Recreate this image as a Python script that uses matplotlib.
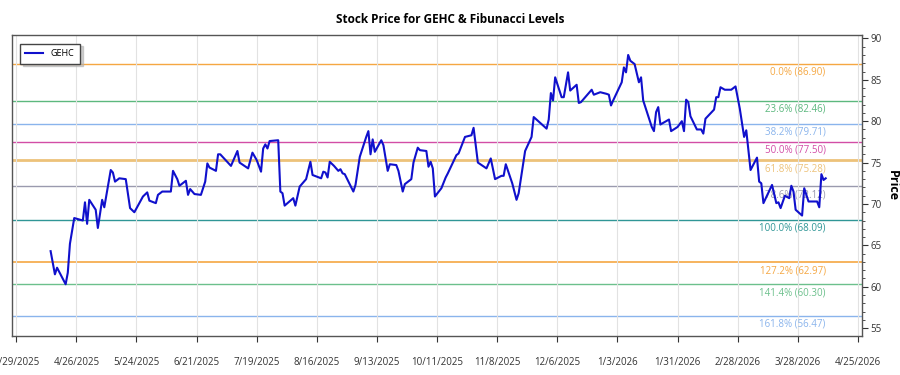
import matplotlib
matplotlib.use("Agg")
import matplotlib.pyplot as plt
import matplotlib.dates as mdates
from matplotlib.ticker import MultipleLocator, FuncFormatter
import pandas as pd

ticker = "GEHC"

# closing prices
dates = [
    "2025-04-14", "2025-04-16", "2025-04-17", "2025-04-21", "2025-04-22", "2025-04-23",
    "2025-04-25", "2025-04-29", "2025-04-30", "2025-05-01", "2025-05-02", "2025-05-05",
    "2025-05-06", "2025-05-08", "2025-05-09", "2025-05-12", "2025-05-13", "2025-05-14",
    "2025-05-16", "2025-05-19", "2025-05-21", "2025-05-23", "2025-05-27", "2025-05-29",
    "2025-05-30", "2025-06-02", "2025-06-03", "2025-06-05", "2025-06-09", "2025-06-10",
    "2025-06-12", "2025-06-13", "2025-06-16", "2025-06-17", "2025-06-18", "2025-06-20",
    "2025-06-23", "2025-06-25", "2025-06-26", "2025-06-27", "2025-06-30", "2025-07-01",
    "2025-07-02", "2025-07-07", "2025-07-10", "2025-07-11", "2025-07-15", "2025-07-17",
    "2025-07-19", "2025-07-21", "2025-07-22", "2025-07-23", "2025-07-24", "2025-07-25",
    "2025-07-29", "2025-07-30", "2025-07-31", "2025-08-01", "2025-08-05", "2025-08-06",
    "2025-08-08", "2025-08-11", "2025-08-13", "2025-08-14", "2025-08-18", "2025-08-19",
    "2025-08-20", "2025-08-21", "2025-08-22", "2025-08-24", "2025-08-26", "2025-08-27",
    "2025-08-28", "2025-08-29", "2025-09-02", "2025-09-03", "2025-09-05", "2025-09-08",
    "2025-09-09", "2025-09-10", "2025-09-11", "2025-09-12", "2025-09-15", "2025-09-16",
    "2025-09-18", "2025-09-19", "2025-09-22", "2025-09-23", "2025-09-25", "2025-09-26",
    "2025-09-29", "2025-09-30", "2025-10-02", "2025-10-03", "2025-10-06", "2025-10-07",
    "2025-10-08", "2025-10-09", "2025-10-10", "2025-10-13", "2025-10-15", "2025-10-16",
    "2025-10-20", "2025-10-21", "2025-10-24", "2025-10-27", "2025-10-28", "2025-10-30",
    "2025-11-03", "2025-11-05", "2025-11-07", "2025-11-10", "2025-11-11", "2025-11-12",
    "2025-11-15", "2025-11-17", "2025-11-18", "2025-11-21", "2025-11-24", "2025-11-25",
    "2025-12-01", "2025-12-02", "2025-12-03", "2025-12-04", "2025-12-05", "2025-12-08",
    "2025-12-09", "2025-12-11", "2025-12-12", "2025-12-15", "2025-12-16", "2025-12-17",
    "2025-12-22", "2025-12-23", "2025-12-26", "2025-12-29", "2025-12-30", "2025-12-31",
    "2026-01-01", "2026-01-05", "2026-01-06", "2026-01-07", "2026-01-08", "2026-01-09",
    "2026-01-11", "2026-01-13", "2026-01-14", "2026-01-15", "2026-01-19", "2026-01-20",
    "2026-01-21", "2026-01-22", "2026-01-23", "2026-01-27", "2026-01-28", "2026-01-31",
    "2026-02-02", "2026-02-03", "2026-02-04", "2026-02-05", "2026-02-06", "2026-02-09",
    "2026-02-11", "2026-02-12", "2026-02-13", "2026-02-17", "2026-02-18", "2026-02-19",
    "2026-02-20", "2026-02-22", "2026-02-24", "2026-02-25", "2026-02-27", "2026-03-01",
    "2026-03-03", "2026-03-04", "2026-03-06", "2026-03-09", "2026-03-10", "2026-03-11",
    "2026-03-12", "2026-03-16", "2026-03-18", "2026-03-19", "2026-03-20", "2026-03-22",
    "2026-03-24", "2026-03-25", "2026-03-26", "2026-03-27", "2026-03-30", "2026-03-31",
    "2026-04-02", "2026-04-06", "2026-04-07", "2026-04-08", "2026-04-09", "2026-04-10",
]
prices = [
    64.3, 61.5, 62.3, 60.3, 61.7, 65.2,
    68.3, 68.0, 70.2, 67.6, 70.5, 69.3,
    67.1, 70.5, 69.6, 74.1, 73.8, 72.7,
    73.1, 73.0, 69.5, 69.0, 70.9, 71.4,
    70.4, 70.1, 71.1, 71.5, 71.5, 74.0,
    73.0, 72.2, 72.8, 71.1, 71.8, 71.2,
    71.1, 72.7, 74.9, 74.4, 74.0, 76.0,
    76.0, 74.6, 76.4, 75.0, 74.3, 76.2,
    75.3, 73.9, 76.7, 77.2, 76.7, 77.6,
    77.7, 71.5, 71.3, 69.8, 70.7, 69.8,
    72.1, 73.0, 75.1, 73.5, 73.1, 73.9,
    73.8, 73.2, 75.1, 74.6, 74.0, 74.2,
    73.7, 73.6, 71.5, 72.3, 75.7, 78.1,
    78.8, 76.0, 77.8, 76.3, 77.7, 77.1,
    74.0, 74.8, 74.7, 74.0, 71.5, 72.4,
    73.0, 75.0, 76.8, 76.5, 76.4, 74.5,
    75.1, 74.3, 70.9, 71.9, 73.2, 73.7,
    75.9, 76.1, 78.1, 78.3, 79.2, 75.0,
    74.3, 75.5, 73.0, 73.4, 73.4, 74.8,
    72.5, 70.5, 71.3, 76.4, 78.1, 80.5,
    79.1, 80.2, 83.4, 82.5, 85.3, 82.9,
    82.9, 85.9, 83.7, 84.4, 82.2, 82.3,
    83.8, 83.2, 83.5, 83.3, 83.2, 81.9,
    82.5, 84.7, 86.5, 85.9, 88.0, 87.3,
    86.9, 84.7, 85.3, 82.5, 79.3, 78.8,
    81.1, 81.7, 79.6, 80.2, 78.8, 79.3,
    80.0, 78.8, 82.6, 82.3, 80.6, 79.0,
    79.0, 78.5, 80.3, 81.4, 82.9, 82.9,
    84.1, 83.8, 83.8, 83.8, 84.2, 81.5,
    78.1, 78.9, 74.1, 75.6, 72.7, 72.5,
    70.1, 72.3, 70.1, 70.2, 69.5, 71.0,
    70.7, 72.2, 71.5, 69.3, 68.6, 71.9,
    70.3, 70.3, 69.6, 73.6, 72.9, 73.1,
]

# fibonacci retracement levels
fib_labels = ["0.0%", "23.6%", "38.2%", "50.0%", "61.8%", "78.6%",
              "100.0%", "127.2%", "141.4%", "161.8%"]
fib_values = [86.90, 82.46, 79.71, 77.50, 75.28, 72.12, 68.09, 62.97, 60.30, 56.47]
fib_colors = ["#f5a742", "#5cb87e", "#8ab4ec", "#d24da6", "#edc27a", "#9a9aae",
              "#2f9696", "#f5a742", "#6cc08c", "#8ab4ec"]
fib_widths = [1.0, 1.0, 1.0, 1.0, 2.0, 1.0, 1.0, 1.2, 1.0, 1.0]

tick_dates = pd.date_range("2025-03-29", periods=15, freq="28D")

plt.rcParams["font.family"] = ["Open Sans", "DejaVu Sans"]

dt = pd.to_datetime(dates)

fig = plt.figure(figsize=(9, 3.75), dpi=100)
ax = fig.add_axes([0.0133, 0.104, 0.9447, 0.8035])

for lab, val, col, lw in zip(fib_labels, fib_values, fib_colors, fib_widths):
    ax.axhline(val, color=col, linewidth=lw, zorder=1)
    ax.text(dt[-1], val - 0.35, f"{lab} ({val:.2f})", color=col, fontsize=7,
            ha="right", va="top", zorder=2)

ax.plot(dt, prices, color="#1010cc", linewidth=1.5, label=ticker, zorder=3)

ax.set_xlim(pd.Timestamp("2025-03-27"), pd.Timestamp("2026-04-27"))
ax.set_ylim(54.05, 90.45)

ax.set_xticks(tick_dates)
ax.xaxis.set_major_formatter(FuncFormatter(
    lambda v, pos: (lambda d: f"{d.month}/{d.day}/{d.year}")(mdates.num2date(v))))
ax.grid(axis="x", color="#e2e2e2", linewidth=0.8)
ax.tick_params(axis="x", length=4, pad=11, labelsize=7, colors="#333333")

ax.yaxis.tick_right()
ax.yaxis.set_label_position("right")
ax.yaxis.set_major_locator(MultipleLocator(5))
ax.yaxis.set_minor_locator(MultipleLocator(1))
ax.tick_params(axis="y", which="major", length=4, pad=2, labelsize=7, colors="#333333")
ax.tick_params(axis="y", which="minor", length=2, colors="#333333")
ax.set_ylabel("Price", fontsize=9, fontweight="bold", rotation=270, labelpad=12)

for sp in ax.spines.values():
    sp.set_color("#555555")
    sp.set_linewidth(1.0)

leg = ax.legend(loc="upper left", fontsize=6.5, frameon=True, fancybox=False,
                shadow={"color": "#b0b0b0", "alpha": 0.6}, borderpad=0.6,
                handlelength=2.0, bbox_to_anchor=(0.004, 0.985))
leg.get_frame().set_edgecolor("#444444")

fig.suptitle("Stock Price for GEHC & Fibunacci Levels", fontsize=8.5,
             fontweight="bold", y=0.965)

fig.savefig("out.png", dpi=100)
